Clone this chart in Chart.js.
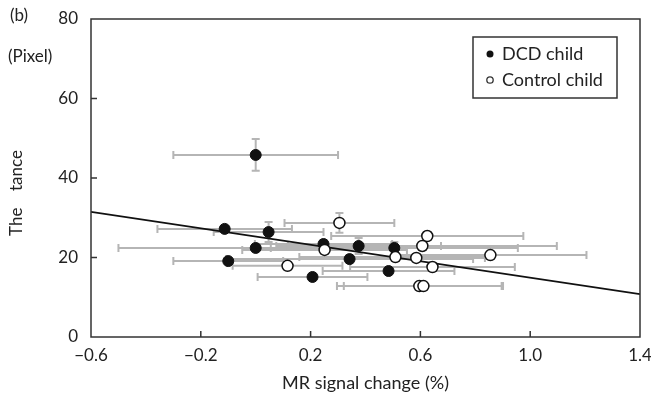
<!DOCTYPE html>
<html lang="en">
<head>
    <meta charset="UTF-8">
    <title>MR signal change vs distance</title>
    <script src="https://cdn.jsdelivr.net/npm/chart.js@4.4.1/dist/chart.umd.min.js"></script>
    <style>
        body { margin: 0; background: #fff; }
        #wrap { width: 651px; height: 398px; }
    </style>
</head>
<body>
    <div id="wrap"><canvas id="chart"></canvas></div>
    <script>
        // values
        var xTicks = [-0.6, -0.2, 0.2, 0.6, 1.0, 1.4];
        var yTicks = [0, 20, 40, 60, 80];

        var dcdX    = [0.0, -0.113, 0.047, -0.10, 0.0, 0.247, 0.375, 0.342, 0.207, 0.505, 0.484];
        var dcdY    = [45.8, 27.2, 26.4, 19.1, 22.4, 23.4, 22.9, 19.6, 15.1, 22.4, 16.6];
        var dcdXErr = [0.30, 0.245, 0.20, 0.20, 0.50, 0.25, 0.30, 0.45, 0.20, 0.45, 0.24];
        var dcdYErr = [4.0, 0.8, 2.5, 0.8, 0.8, 1.0, 2.0, 1.0, 0.8, 1.5, 0.8];

        var ctrlX    = [0.305, 0.251, 0.116, 0.625, 0.607, 0.509, 0.585, 0.855, 0.644, 0.596, 0.611];
        var ctrlY    = [28.7, 21.9, 17.9, 25.4, 22.9, 20.1, 19.9, 20.6, 17.6, 12.8, 12.8];
        var ctrlXErr = [0.20, 0.30, 0.20, 0.35, 0.49, 0.35, 0.25, 0.35, 0.30, 0.30, 0.29];
        var ctrlYErr = [2.5, 1.0, 0.8, 1.0, 1.0, 1.0, 1.0, 0.8, 0.8, 0.8, 0.8];

        var fitX = [-0.6, 1.4];
        var fitY = [31.5, 10.8];

        var FONT = 'Lato, "DejaVu Sans", sans-serif';
        var INK = '#222';

        function pts(xs, ys) {
            return xs.map(function (x, i) { return { x: x, y: ys[i] }; });
        }
        function minus(v) {
            var s = Number(v).toFixed(1);
            return s.replace('-', '\u2212');
        }

        var errorBars = {
            id: 'errorBars',
            beforeDatasetsDraw: function (chart) {
                var ctx = chart.ctx, xs = chart.scales.x, ys = chart.scales.y;
                ctx.save();
                ctx.strokeStyle = '#b5b5b5';
                ctx.lineWidth = 2;
                chart.data.datasets.forEach(function (ds) {
                    if (!ds.errX) return;
                    ds.data.forEach(function (p, i) {
                        var px = xs.getPixelForValue(p.x), py = ys.getPixelForValue(p.y);
                        var x0 = xs.getPixelForValue(p.x - ds.errX[i]);
                        var x1 = xs.getPixelForValue(p.x + ds.errX[i]);
                        var y0 = ys.getPixelForValue(p.y - ds.errY[i]);
                        var y1 = ys.getPixelForValue(p.y + ds.errY[i]);
                        ctx.beginPath();
                        ctx.moveTo(x0, py); ctx.lineTo(x1, py);
                        ctx.moveTo(x0, py - 4); ctx.lineTo(x0, py + 4);
                        ctx.moveTo(x1, py - 4); ctx.lineTo(x1, py + 4);
                        ctx.moveTo(px, y0); ctx.lineTo(px, y1);
                        ctx.moveTo(px - 4, y0); ctx.lineTo(px + 4, y0);
                        ctx.moveTo(px - 4, y1); ctx.lineTo(px + 4, y1);
                        ctx.stroke();
                    });
                });
                ctx.restore();
            }
        };

        var frame = {
            id: 'frame',
            afterDraw: function (chart) {
                var ctx = chart.ctx, a = chart.chartArea;
                var xs = chart.scales.x, ys = chart.scales.y;
                ctx.save();
                ctx.strokeStyle = '#333';
                ctx.lineWidth = 1.5;
                ctx.strokeRect(a.left, a.top, a.right - a.left, a.bottom - a.top);
                // inward tick marks
                ctx.beginPath();
                xTicks.slice(1, -1).forEach(function (v) {
                    var x = xs.getPixelForValue(v);
                    ctx.moveTo(x, a.bottom); ctx.lineTo(x, a.bottom - 6);
                });
                yTicks.slice(1, -1).forEach(function (v) {
                    var y = ys.getPixelForValue(v);
                    ctx.moveTo(a.left, y); ctx.lineTo(a.left + 6, y);
                });
                ctx.stroke();

                // legend box
                ctx.strokeRect(473, 37, 144, 61);
                ctx.fillStyle = '#111';
                ctx.beginPath(); ctx.arc(490, 54, 3.5, 0, Math.PI * 2); ctx.fill();
                ctx.lineWidth = 1.3;
                ctx.beginPath(); ctx.arc(490, 80, 3.2, 0, Math.PI * 2); ctx.stroke();
                ctx.fillStyle = INK;
                ctx.font = '18px ' + FONT;
                ctx.textBaseline = 'middle';
                ctx.textAlign = 'left';
                ctx.fillText(chart.data.datasets[0].label, 502, 54);
                ctx.fillText(chart.data.datasets[1].label, 502, 80);

                // corner labels
                ctx.font = '17px ' + FONT;
                ctx.fillText('(b)', 10, 16);
                ctx.fillText('(Pixel)', 8, 57);

                // y title, partly missing as in the figure
                ctx.translate(17, 0);
                ctx.rotate(-Math.PI / 2);
                ctx.fillText('The', -236, 0);
                ctx.fillText('tance', -191, 0);
                ctx.restore();
            }
        };

        new Chart(document.getElementById('chart'), {
            type: 'scatter',
            data: {
                datasets: [{
                    label: 'DCD child',
                    data: pts(dcdX, dcdY),
                    errX: dcdXErr,
                    errY: dcdYErr,
                    backgroundColor: '#111',
                    borderColor: '#111',
                    borderWidth: 1,
                    pointRadius: 5.5,
                    order: 2
                }, {
                    label: 'Control child',
                    data: pts(ctrlX, ctrlY),
                    errX: ctrlXErr,
                    errY: ctrlYErr,
                    backgroundColor: '#fff',
                    borderColor: '#111',
                    borderWidth: 1.5,
                    pointRadius: 5.5,
                    order: 1
                }, {
                    label: 'fit',
                    data: pts(fitX, fitY),
                    showLine: true,
                    borderColor: '#111',
                    borderWidth: 1.8,
                    pointRadius: 0,
                    order: 3
                }]
            },
            plugins: [errorBars, frame],
            options: {
                responsive: true,
                maintainAspectRatio: false,
                animation: false,
                layout: { padding: { top: 19, right: 11, bottom: 0, left: 0 } },
                plugins: { legend: { display: false }, tooltip: { enabled: false } },
                scales: {
                    x: {
                        type: 'linear',
                        min: -0.6,
                        max: 1.4,
                        afterBuildTicks: function (s) { s.ticks = xTicks.map(function (v) { return { value: v }; }); },
                        afterFit: function (s) { s.height = 61; s.paddingLeft = 0; s.paddingRight = 0; },
                        grid: { display: false, drawTicks: false },
                        border: { display: false },
                        ticks: {
                            padding: 8,
                            color: INK,
                            font: { family: FONT, size: 17 },
                            maxRotation: 0,
                            callback: function (v) { return minus(v); }
                        },
                        title: {
                            display: true,
                            text: 'MR signal change (%)',
                            color: INK,
                            font: { family: FONT, size: 18 },
                            padding: { top: 0, bottom: 4 }
                        }
                    },
                    y: {
                        min: 0,
                        max: 80,
                        afterBuildTicks: function (s) { s.ticks = yTicks.map(function (v) { return { value: v }; }); },
                        afterFit: function (s) { s.width = 91; s.paddingTop = 0; s.paddingBottom = 0; },
                        grid: { display: false, drawTicks: false },
                        border: { display: false },
                        ticks: {
                            padding: 13,
                            color: INK,
                            font: { family: FONT, size: 17 }
                        }
                    }
                }
            }
        });
    </script>
</body>
</html>
